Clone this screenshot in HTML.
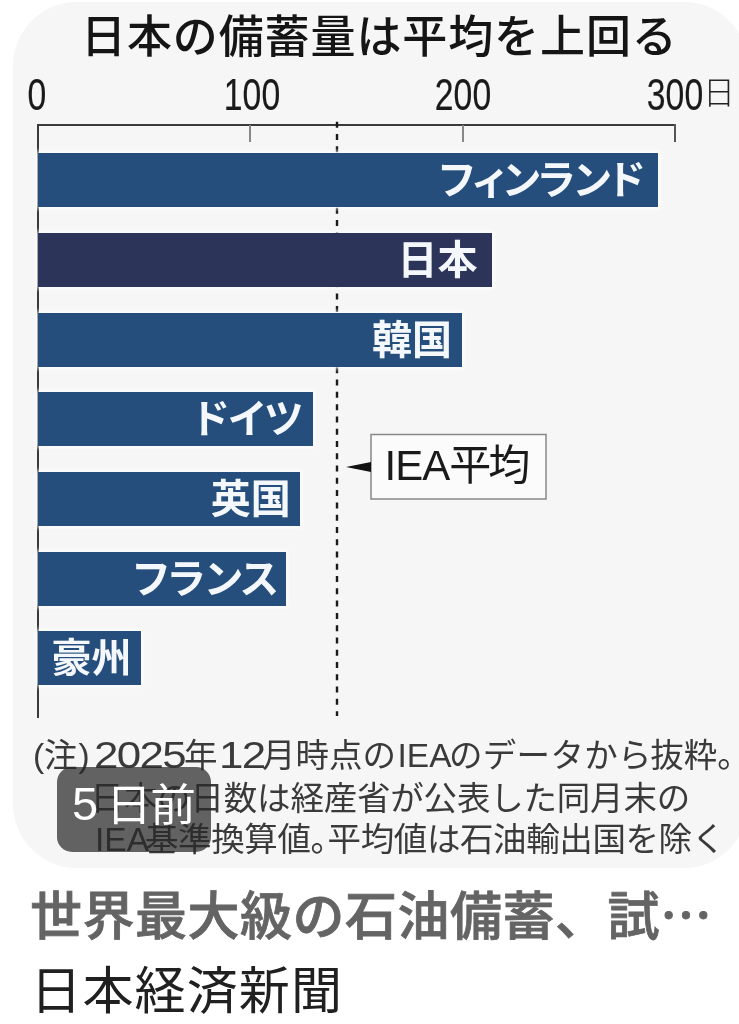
<!DOCTYPE html>
<html lang="ja">
<head>
<meta charset="utf-8">
<style>
html,body{margin:0;padding:0;background:#fff;}
body{width:739px;height:1024px;overflow:hidden;position:relative;font-family:"Liberation Sans","Noto Sans CJK JP",sans-serif;}
.card{position:absolute;left:13px;top:2px;width:735px;height:866px;border-radius:64px;background:#f6f6f6;overflow:hidden;}
.abs{position:absolute;white-space:nowrap;}
.title{left:81px;top:12px;font-size:45px;line-height:52px;letter-spacing:0.9px;color:#151515;font-family:"Liberation Sans","Noto Sans CJK JP",sans-serif;font-weight:500;}
.num{font-family:"Liberation Sans",sans-serif;font-size:45px;line-height:44px;color:#1a1a1a;-webkit-text-stroke:0.2px #1a1a1a;transform-origin:50% 0;transform:translateX(-50%) scaleX(0.75);}
.hline{position:absolute;background:#3a3a3a;}
.bar{position:absolute;left:38px;height:54px;background:#254e7c;box-shadow:0 0 4px 2px rgba(255,255,255,0.75);}
.bar span{position:absolute;right:14px;top:0;line-height:54px;font-size:40px;font-weight:700;color:#f4f8fc;font-feature-settings:"palt";font-family:"Liberation Sans","Noto Sans CJK JP",sans-serif;}
.jp{background:#2d3459;}
.note{font-family:"Liberation Sans","Noto Sans CJK JP",sans-serif;font-size:33.5px;line-height:44px;color:#3a3a3a;}
.dg{font-size:36px;letter-spacing:-1.4px;transform-origin:0 0;transform:scaleX(1.22);}
.badge{position:absolute;left:57px;top:767px;width:154px;height:85px;border-radius:15px;background:rgba(40,40,40,0.72);}
.head{left:30px;top:885px;font-size:52px;line-height:64px;font-weight:500;letter-spacing:0.5px;color:#646464;-webkit-text-stroke:0.8px #646464;font-family:"Liberation Sans","Noto Sans CJK JP",sans-serif;}
.src{left:30.4px;top:959.8px;font-size:51px;line-height:64px;font-weight:400;letter-spacing:1.1px;color:#202020;font-family:"Liberation Sans","Noto Sans CJK JP",sans-serif;}
</style>
</head>
<body>
<div class="card">
</div>
<div class="abs title">日本の備蓄量は平均を上回る</div>
<div class="abs num" style="left:37px;top:73px;">0</div>
<div class="abs num" style="left:251.6px;top:73px;">100</div>
<div class="abs num" style="left:462.5px;top:73px;">200</div>
<div class="abs num" style="left:675px;top:73px;">300</div>
<div class="abs" style="left:703px;top:73px;font-size:32px;line-height:40px;font-weight:300;color:#222;font-family:'Liberation Sans','Noto Sans CJK JP',sans-serif;">日</div>

<div class="hline" style="left:36.5px;top:124.4px;width:639px;height:1.8px;"></div>
<div class="hline" style="left:36.5px;top:124.3px;width:2px;height:594px;"></div>
<div class="hline" style="left:249.4px;top:125px;width:1.8px;height:17px;background:#888;"></div>
<div class="hline" style="left:461.8px;top:125px;width:1.8px;height:17px;background:#888;"></div>
<div class="hline" style="left:673.5px;top:124.3px;width:2px;height:17.5px;background:#555;"></div>

<svg class="abs" style="left:0;top:0;" width="739" height="1024"><line x1="337" y1="121.7" x2="337" y2="716" stroke="#1a1a1a" stroke-width="2.4" stroke-dasharray="6 6.28"/></svg>
<div class="bar" style="top:153px;width:620px;"><span style="right:14.6px;letter-spacing:-1.2px">フィンランド</span></div>
<div class="bar jp" style="top:233px;width:454px;"><span style="right:14.5px">日本</span></div>
<div class="bar" style="top:313px;width:424px;"><span style="right:10px">韓国</span></div>
<div class="bar" style="top:392px;width:275px;"><span style="right:10px">ドイツ</span></div>
<div class="bar" style="top:472px;width:262px;"><span style="right:9.2px">英国</span></div>
<div class="bar" style="top:552px;width:248px;"><span style="right:7.4px">フランス</span></div>
<div class="bar" style="top:631px;width:103px;"><span style="right:9.6px">豪州</span></div>

<svg class="abs" style="left:0;top:0;" width="739" height="1024">
  <rect x="371" y="434.5" width="175" height="64.5" fill="#fbfbfb" stroke="#888" stroke-width="1.5"/>
  <polygon points="346,467 371,462 371,472" fill="#111"/>
</svg>
<div class="abs" style="left:384.5px;top:436px;font-size:42px;line-height:60px;color:#1a1a1a;font-family:'Liberation Sans','Noto Sans CJK JP',sans-serif;"><span style="letter-spacing:-1px">IEA</span><span style="letter-spacing:-3px">平均</span></div>

<div class="abs note" style="left:33px;top:734px;">(</div>
<div class="abs note" style="left:44px;top:734px;">注</div>
<div class="abs note" style="left:78.5px;top:734px;">)</div>
<div class="abs note dg" style="left:94px;top:734px;">2025</div>
<div class="abs note" style="left:184px;top:734px;">年</div>
<div class="abs note dg" style="left:219px;top:734px;">12</div>
<div class="abs note" style="left:262px;top:734px;">月時点の</div>
<div class="abs note" style="left:397.5px;top:734px;">IEA</div>
<div class="abs note" style="left:449px;top:734px;letter-spacing:0.3px;">のデータから</div>
<div class="abs note" style="left:650.2px;top:734px;">抜粋。</div>
<div class="abs note" style="left:90.6px;top:777px;letter-spacing:-0.2px;">日本の日数は経産省が公表した同月末の</div>
<div class="abs note" style="left:95px;top:818px;">IEA</div>
<div class="abs note" style="left:145px;top:818px;letter-spacing:-0.4px;">基準換算値<span style="margin-right:-16px">。</span>平均値は石油輸出国を除く</div>

<div class="badge"></div>
<div class="abs" style="left:72px;top:776px;font-size:47px;line-height:56px;color:#fff;font-family:'Liberation Sans',sans-serif;">5</div>
<div class="abs" style="left:106px;top:778px;font-size:44px;line-height:56px;letter-spacing:-1.5px;transform-origin:0 0;transform:scaleX(1.04);color:#fff;font-family:'Liberation Sans','Noto Sans CJK JP',sans-serif;">日前</div>

<div class="abs head">世界最大級の石油備蓄、試<span style="font-family:'Noto Sans CJK JP',sans-serif;line-height:0;">…</span></div>
<div class="abs src">日本経済新聞</div>
</body>
</html>
